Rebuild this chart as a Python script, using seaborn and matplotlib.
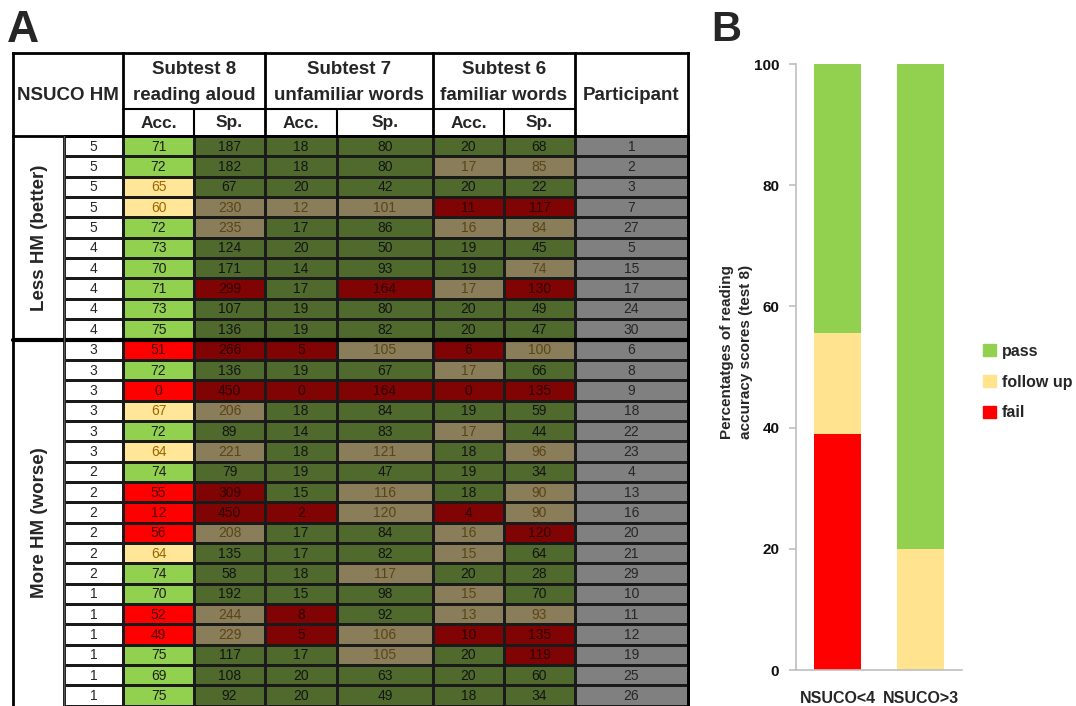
import matplotlib.pyplot as plt
from matplotlib.colors import ListedColormap
from matplotlib.patches import Patch
import numpy as np
import seaborn as sns

sns.set_style('white')
plt.rcParams['font.family'] = ['Liberation Sans', 'DejaVu Sans']

# Panel A table values, one entry per participant row
nsuco = [5, 5, 5, 5, 5, 4, 4, 4, 4, 4,
         3, 3, 3, 3, 3, 3, 2, 2, 2, 2, 2, 2, 1, 1, 1, 1, 1, 1]
acc8 = [71, 72, 65, 60, 72, 73, 70, 71, 73, 75,
        51, 72, 0, 67, 72, 64, 74, 55, 12, 56, 64, 74, 70, 52, 49, 75, 69, 75]
sp8 = [187, 182, 67, 230, 235, 124, 171, 299, 107, 136,
       266, 136, 450, 206, 89, 221, 79, 309, 450, 208, 135, 58, 192, 244, 229, 117, 108, 92]
acc7 = [18, 18, 20, 12, 17, 20, 14, 17, 19, 19,
        5, 19, 0, 18, 14, 18, 19, 15, 2, 17, 17, 18, 15, 8, 5, 17, 20, 20]
sp7 = [80, 80, 42, 101, 86, 50, 93, 164, 80, 82,
       105, 67, 164, 84, 83, 121, 47, 116, 120, 84, 82, 117, 98, 92, 106, 105, 63, 49]
acc6 = [20, 17, 20, 11, 16, 19, 19, 17, 20, 20,
        6, 17, 0, 19, 17, 18, 19, 18, 4, 16, 15, 20, 15, 13, 10, 20, 20, 18]
sp6 = [68, 85, 22, 117, 84, 45, 74, 130, 49, 47,
       100, 66, 135, 59, 44, 96, 34, 90, 90, 120, 64, 28, 70, 93, 135, 119, 60, 34]
participant = [1, 2, 3, 7, 27, 5, 15, 17, 24, 30,
               6, 8, 9, 18, 22, 23, 4, 13, 16, 20, 21, 29, 10, 11, 12, 19, 25, 26]

# cell status: p = pass, f = follow up, x = fail
acc8_status = 'ppffpppppp' + 'xpxfpfpxxxfppxxppp'
sp8_status = 'pppffppxpp' + 'xpxfpfpxxfpppffppp'
acc7_status = 'pppfpppppp' + 'xpxpppppxppppxxppp'
sp7_status = 'pppfpppxpp' + 'fpxppfpffppfppffpp'
acc6_status = 'pfpxfppfpp' + 'xfxpfpppxffpffxppp'
sp6_status = 'pfpxfpfxpp' + 'fpxppfpffxpppfxxpp'

# Panel B values (percent of participants)
groups = ['NSUCO<4', 'NSUCO>3']
fail = [38.9, 0.0]
follow_up = [16.7, 20.0]
passed = [44.4, 80.0]

# colours
acc_fill = {'p': '#92D050', 'f': '#FFE699', 'x': '#FF0000'}
oth_fill = {'p': '#4F6A2C', 'f': '#8A7D5A', 'x': '#800404'}
acc_text = {'p': '#1e1e1e', 'f': '#9C6500', 'x': '#4a0000'}
oth_text = {'p': '#141414', 'f': '#5a4516', 'x': '#2e0000'}
palette = [acc_fill['p'], acc_fill['f'], acc_fill['x'],
           oth_fill['p'], oth_fill['f'], oth_fill['x'], '#808080', '#FFFFFF']
idx = {'p': 0, 'f': 1, 'x': 2}

fig = plt.figure(figsize=(10.76, 7.06), dpi=100)

# ---------- panel A: table drawn in pixel units ----------
ax = fig.add_axes([0, 0, 1, 1])
ax.set_xlim(0, 1076)
ax.set_ylim(706, 0)
ax.axis('off')

left, right, top = 13, 688, 53
xe = np.array([64, 123, 194, 265, 337, 433, 504, 575, 688])
row_h = 20.35
ye = 136 + row_h * np.arange(len(nsuco) + 1)

cols = [nsuco, acc8, sp8, acc7, sp7, acc6, sp6, participant]
stats = [None, acc8_status, sp8_status, acc7_status, sp7_status, acc6_status, sp6_status, None]

codes = np.zeros((len(nsuco), len(cols)))
for j, st in enumerate(stats):
    for i in range(len(nsuco)):
        if j == 0:
            codes[i, j] = 7
        elif j == len(cols) - 1:
            codes[i, j] = 6
        elif j == 1:
            codes[i, j] = idx[st[i]]
        else:
            codes[i, j] = 3 + idx[st[i]]

ax.pcolormesh(xe, ye, codes, cmap=ListedColormap(palette), vmin=-0.5, vmax=7.5,
              edgecolors='#1a1a1a', linewidth=0.8)

for j, (vals, st) in enumerate(zip(cols, stats)):
    xc = (xe[j] + xe[j + 1]) / 2
    for i, v in enumerate(vals):
        yc = (ye[i] + ye[i + 1]) / 2 + 0.5
        if st is None:
            c = '#262626'
        elif j == 1:
            c = acc_text[st[i]]
        else:
            c = oth_text[st[i]]
        ax.text(xc, yc, str(v), ha='center', va='center', fontsize=10, color=c)

# header and frame lines
lk = dict(color='black', lw=2, solid_capstyle='projecting')
ax.plot([left, right], [top, top], **lk)
ax.plot([left, right], [136, 136], **lk)
ax.plot([left, left], [top, 706], **lk)
ax.plot([right, right], [top, 706], **lk)
for x in [123, 265, 433, 575]:
    ax.plot([x, x], [top, 136], **lk)
for x in [194, 337, 504]:
    ax.plot([x, x], [109, 136], color='black', lw=1.5)
ax.plot([123, 575], [109, 109], color='black', lw=1.5)
ax.plot([left, right], [ye[10], ye[10]], color='black', lw=3)
ax.plot([64, 64], [136, 706], color='#555555', lw=1)

hk = dict(ha='center', va='center', fontsize=13.5, fontweight='bold')
ax.text(68, 96, 'NSUCO HM', **hk)
ax.text(194, 69, 'Subtest 8', **hk)
ax.text(194, 96, 'reading aloud', **hk)
ax.text(349, 69, 'Subtest 7', **hk)
ax.text(349, 96, 'unfamiliar words', **hk)
ax.text(504, 69, 'Subtest 6', **hk)
ax.text(504, 96, 'familiar words', **hk)
ax.text(631, 96, 'Participant', **hk)
for j in range(1, 7):
    ax.text((xe[j] + xe[j + 1]) / 2, 123, 'Acc.' if j % 2 else 'Sp.',
            ha='center', va='center', fontsize=12.5, fontweight='bold')

ax.text(40, (ye[0] + ye[10]) / 2, 'Less HM (better)', rotation=90,
        ha='center', va='center', fontsize=13.5, fontweight='bold')
ax.text(40, (ye[10] + ye[-1]) / 2, 'More HM (worse)', rotation=90,
        ha='center', va='center', fontsize=13.5, fontweight='bold')

ax.text(23, 30, 'A', ha='center', va='center', fontsize=32, fontweight='bold')
ax.text(726, 30, 'B', ha='center', va='center', fontsize=30, fontweight='bold')

# ---------- panel B: stacked bars ----------
axb = fig.add_axes([796 / 1076, 36 / 706, 166 / 1076, 606 / 706])
green, yellow, red = '#92D050', '#FFE38F', '#FF0000'
tot = [f + u + p for f, u, p in zip(fail, follow_up, passed)]
mid = [f + u for f, u in zip(fail, follow_up)]
sns.barplot(x=groups, y=tot, color=green, saturation=1, width=0.57, linewidth=0, ax=axb)
sns.barplot(x=groups, y=mid, color=yellow, saturation=1, width=0.57, linewidth=0, ax=axb)
sns.barplot(x=groups, y=fail, color=red, saturation=1, width=0.57, linewidth=0, ax=axb)

axb.set_xlim(-0.5, 1.5)
axb.set_ylim(0, 100)
axb.set_yticks(range(0, 101, 20))
sns.despine(ax=axb)
for s in ['left', 'bottom']:
    axb.spines[s].set_color('#BFBFBF')
    axb.spines[s].set_linewidth(1.2)
axb.tick_params(axis='y', left=True, length=5, width=1.2, color='#BFBFBF',
                labelsize=11, pad=7, labelcolor='#111111')
axb.tick_params(axis='x', length=0, labelsize=11.5, pad=15)
for t in axb.get_xticklabels() + axb.get_yticklabels():
    t.set_fontweight('bold')
axb.set_ylabel('Percentatges of reading\naccuracy scores (test 8)', fontsize=11,
               fontweight='bold', linespacing=1.4)
axb.yaxis.set_label_coords(-0.26, (670 - 352) / 606)

handles = [Patch(color=green), Patch(color=yellow), Patch(color=red)]
axb.legend(handles, ['pass', 'follow up', 'fail'], loc='center left',
           bbox_to_anchor=(983 / 1076, 1 - 382 / 706), bbox_transform=fig.transFigure,
           frameon=False, prop={'weight': 'bold', 'size': 11.5}, handlelength=0.8,
           handleheight=0.8, handletextpad=0.4, labelspacing=1.0, borderpad=0,
           borderaxespad=0)

fig.savefig('out.png', dpi=100)
